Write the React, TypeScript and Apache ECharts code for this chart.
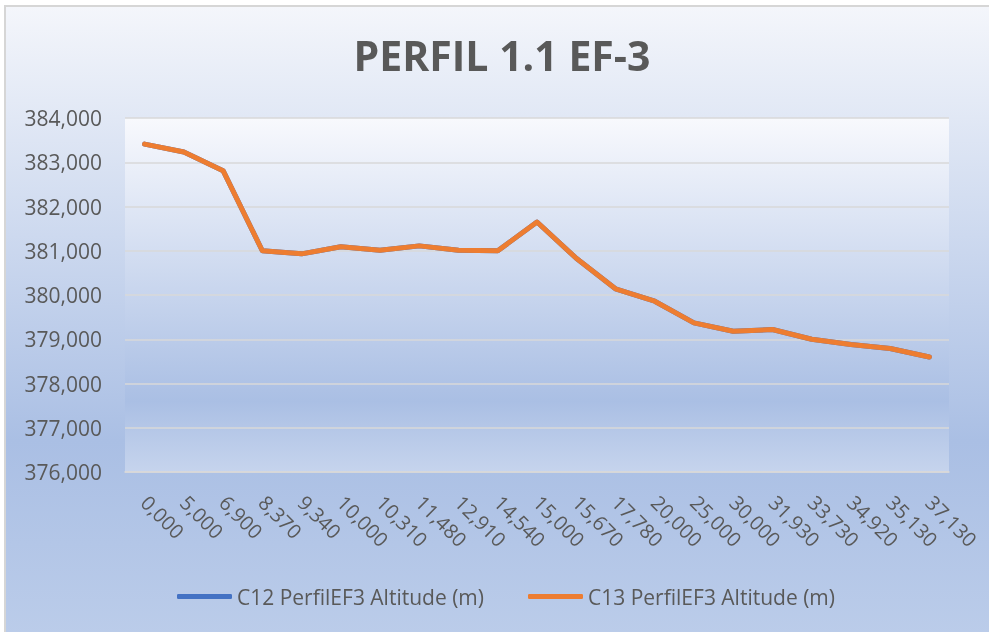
import React, { useEffect, useRef } from "react";
import * as echarts from "echarts";

const distances = [0, 5, 6.9, 8.37, 9.34, 10, 10.31, 11.48, 12.91, 14.54, 15, 15.67, 17.78, 20, 25, 30, 31.93, 33.73, 34.92, 35.13, 37.13];
const c12Altitude = [383.41, 383.23, 382.81, 381.0, 380.93, 381.09, 381.01, 381.11, 381.01, 381.0, 381.65, 380.83, 380.14, 379.86, 379.37, 379.18, 379.22, 379.0, 378.88, 378.79, 378.6];
const c13Altitude = [383.41, 383.23, 382.81, 381.0, 380.93, 381.09, 381.01, 381.11, 381.01, 381.0, 381.65, 380.83, 380.14, 379.86, 379.37, 379.18, 379.22, 379.0, 378.88, 378.79, 378.6];
const seriesNames = ["C12 PerfilEF3 Altitude (m)", "C13 PerfilEF3 Altitude (m)"];
const titleText = "PERFIL 1.1 EF-3";

const fmt = (v: number) => v.toFixed(3).replace(".", ",");
const FONT = "'Open Sans', sans-serif";

export default function App() {
  const ref = useRef<HTMLDivElement>(null);
  useEffect(() => {
    if (!ref.current) return;
    const chart = echarts.init(ref.current, undefined, { renderer: "svg" });
    const gridL = 125, gridT = 118, gridW = 824, gridH = 354;
    chart.setOption({
      animation: false,
      textStyle: { fontFamily: FONT },
      graphic: [
        {
          type: "rect",
          z: -10,
          silent: true,
          shape: { x: 5, y: 6, width: 1000, height: 640 },
          style: {
            fill: new echarts.graphic.LinearGradient(0, 0, 0, 1, [
              { offset: 0, color: "#f4f6fb" },
              { offset: 0.68, color: "#aabfe4" },
              { offset: 1, color: "#bccdea" },
            ]),
            stroke: "#d6d6d6",
            lineWidth: 2,
          },
        },
        {
          type: "rect",
          z: -9,
          silent: true,
          shape: { x: gridL, y: gridT, width: gridW, height: gridH },
          style: {
            fill: new echarts.graphic.LinearGradient(0, 0, 0, 1, [
              { offset: 0, color: "#f8f9fd" },
              { offset: 0.8, color: "#aabfe4" },
              { offset: 1, color: "#c6d4ed" },
            ]),
          },
        },
      ],
      title: {
        text: titleText,
        left: 497,
        top: 29,
        textAlign: "center",
        textStyle: { fontFamily: FONT, fontSize: 41, fontWeight: "bold", color: "#595959" },
      },
      legend: {
        left: 172,
        top: 581,
        itemWidth: 55,
        itemHeight: 5,
        itemGap: 44,
        icon: "roundRect",
        textStyle: { fontFamily: FONT, fontSize: 21, color: "#595959" },
        data: seriesNames,
      },
      grid: { left: gridL, top: gridT, width: gridW, height: gridH, containLabel: false },
      xAxis: {
        type: "category",
        boundaryGap: true,
        data: distances.map(fmt),
        axisLine: { show: true, lineStyle: { color: "#d9d9d9", width: 1.5 } },
        axisTick: { show: false },
        axisLabel: { rotate: -45, interval: 0, margin: 27, fontSize: 20, color: "#595959", fontFamily: FONT },
      },
      yAxis: {
        type: "value",
        min: 376,
        max: 384,
        interval: 1,
        axisLine: { show: false },
        axisTick: { show: false },
        splitLine: { lineStyle: { color: "#d9d9d9", width: 1.5 } },
        axisLabel: { formatter: (v: number) => fmt(v), fontSize: 21, color: "#595959", margin: 23, fontFamily: FONT },
      },
      series: [
        {
          name: seriesNames[0],
          type: "line",
          data: c12Altitude,
          symbol: "none",
          color: "#4472c4",
          lineStyle: { width: 5, color: "#4472c4", cap: "round", join: "round" },
        },
        {
          name: seriesNames[1],
          type: "line",
          data: c13Altitude,
          symbol: "none",
          color: "#ed7d31",
          lineStyle: { width: 5, color: "#ed7d31", cap: "round", join: "round" },
        },
      ],
    });
    return () => chart.dispose();
  }, []);
  return <div ref={ref} style={{ position: "fixed", left: 0, top: 0, width: 989, height: 632 }} />;
}
